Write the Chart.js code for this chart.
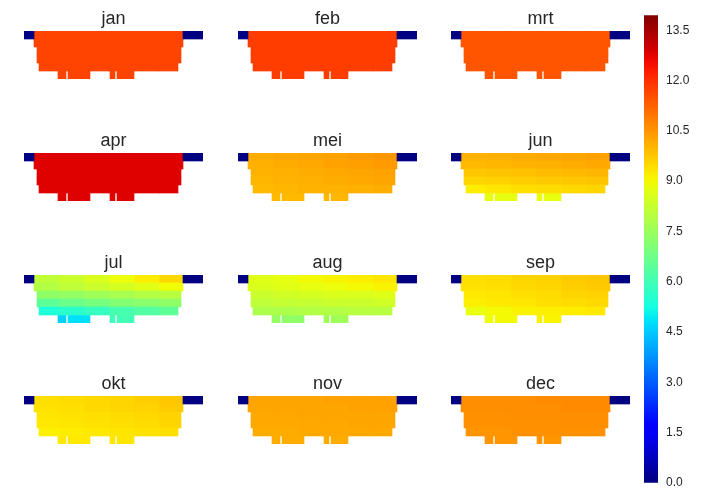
<!DOCTYPE html>
<html>
<head>
<meta charset="utf-8">
<script src="https://cdn.jsdelivr.net/npm/chart.js@4.4.0/dist/chart.umd.min.js"></script>
<style>
  body { margin: 0; background: #fff; width: 702px; height: 489px; overflow: hidden; position: relative; }
  canvas { position: absolute; }
</style>
</head>
<body>
<script>
// --- data -------------------------------------------------------------
const months = ['jan', 'feb', 'mrt', 'apr', 'mei', 'jun', 'jul', 'aug', 'sep', 'okt', 'nov', 'dec'];
const layers = ['0', '1', '2', '3', '4', '5'];            // depth layers, top to bottom
const binEdges = [10, 35, 60, 85, 110, 135, 159];         // distance across section
const bodyRows = [[10, 159], [10, 159], [13, 157], [13, 157], [15, 154]];
const legCells = [[34, 42], [44, 66], [86, 91], [93, 110]];
const bankCells = [[0, 10], [159, 179]];
const bankValue = 0;
const vmax = 13.95;
const cbarTicks = [0, 1.5, 3, 4.5, 6, 7.5, 9, 10.5, 12, 13.5];

// per month: 5 body rows x 6 bins, then the 4 leg cells
const jan = [[11.7, 11.7, 11.7, 11.7, 11.7, 11.7], [11.7, 11.7, 11.7, 11.7, 11.7, 11.7], [11.7, 11.7, 11.7, 11.7, 11.7, 11.7],
             [11.7, 11.7, 11.7, 11.7, 11.7, 11.7], [11.7, 11.7, 11.7, 11.7, 11.7, 11.7], [11.7, 11.7, 11.7, 11.7]];
const feb = [[11.8, 11.8, 11.8, 11.8, 11.8, 11.8], [11.8, 11.8, 11.8, 11.8, 11.8, 11.8], [11.8, 11.8, 11.8, 11.8, 11.8, 11.8],
             [11.8, 11.8, 11.8, 11.8, 11.8, 11.8], [11.8, 11.8, 11.8, 11.8, 11.8, 11.8], [11.8, 11.8, 11.8, 11.8]];
const mrt = [[11.45, 11.45, 11.45, 11.45, 11.45, 11.45], [11.45, 11.45, 11.45, 11.45, 11.45, 11.45], [11.45, 11.45, 11.45, 11.45, 11.45, 11.45],
             [11.45, 11.45, 11.45, 11.45, 11.45, 11.45], [11.45, 11.45, 11.45, 11.45, 11.45, 11.45], [11.45, 11.45, 11.45, 11.45]];
const apr = [[12.8, 12.8, 12.8, 12.8, 12.8, 12.8], [12.8, 12.8, 12.8, 12.8, 12.8, 12.8], [12.8, 12.8, 12.8, 12.8, 12.8, 12.8],
             [12.8, 12.8, 12.8, 12.8, 12.8, 12.8], [12.8, 12.8, 12.8, 12.8, 12.8, 12.8], [12.8, 12.8, 12.8, 12.8]];
const mei = [[10.15, 10.2, 10.25, 10.3, 10.4, 10.45], [10.1, 10.15, 10.2, 10.3, 10.35, 10.4], [10.05, 10.1, 10.15, 10.2, 10.25, 10.3],
             [10.0, 10.05, 10.1, 10.15, 10.2, 10.25], [9.95, 10.0, 10.05, 10.05, 10.1, 10.15], [9.95, 9.95, 10.0, 10.0]];
const jun = [[10.05, 10.1, 10.15, 10.2, 10.25, 10.3], [9.95, 10.0, 10.05, 10.1, 10.15, 10.2], [9.75, 9.8, 9.85, 9.9, 9.95, 10.0],
             [9.55, 9.6, 9.65, 9.7, 9.75, 9.8], [9.2, 9.3, 9.4, 9.45, 9.5, 9.55], [8.8, 8.8, 8.85, 8.85]];
const jul = [[8.1, 8.3, 8.6, 8.9, 9.2, 9.5], [7.9, 8.1, 8.3, 8.5, 8.7, 8.95], [7.3, 7.4, 7.6, 7.7, 7.9, 8.0],
             [6.5, 6.7, 6.9, 7.1, 7.2, 7.3], [5.4, 5.6, 5.8, 6.1, 6.3, 6.5], [4.6, 4.8, 5.9, 6.0]];
const aug = [[8.7, 8.8, 9.0, 9.1, 9.2, 9.3], [8.6, 8.7, 8.8, 8.9, 9.0, 9.1], [8.3, 8.4, 8.5, 8.6, 8.6, 8.7],
             [8.1, 8.2, 8.2, 8.3, 8.3, 8.4], [7.8, 7.8, 7.9, 7.9, 8.0, 8.0], [7.4, 7.3, 7.6, 7.6]];
const sep = [[9.4, 9.45, 9.55, 9.6, 9.7, 9.75], [9.35, 9.4, 9.5, 9.55, 9.65, 9.7], [9.25, 9.3, 9.4, 9.45, 9.55, 9.6],
             [9.15, 9.25, 9.3, 9.4, 9.45, 9.5], [8.85, 9.0, 9.1, 9.15, 9.2, 9.25], [8.9, 9.0, 9.1, 9.1]];
const okt = [[9.4, 9.45, 9.5, 9.55, 9.65, 9.75], [9.35, 9.4, 9.5, 9.55, 9.6, 9.7], [9.3, 9.35, 9.4, 9.45, 9.5, 9.6],
             [9.25, 9.3, 9.35, 9.4, 9.45, 9.55], [9.15, 9.2, 9.25, 9.3, 9.35, 9.4], [9.25, 9.25, 9.3, 9.3]];
const nov = [[10.25, 10.25, 10.25, 10.3, 10.3, 10.3], [10.25, 10.25, 10.25, 10.25, 10.3, 10.3], [10.2, 10.2, 10.25, 10.25, 10.25, 10.25],
             [10.2, 10.2, 10.2, 10.2, 10.25, 10.25], [10.15, 10.15, 10.2, 10.2, 10.2, 10.2], [10.15, 10.15, 10.15, 10.15]];
const dec = [[10.6, 10.6, 10.6, 10.65, 10.65, 10.65], [10.6, 10.6, 10.6, 10.6, 10.65, 10.65], [10.55, 10.55, 10.6, 10.6, 10.6, 10.6],
             [10.55, 10.55, 10.55, 10.55, 10.6, 10.6], [10.5, 10.5, 10.55, 10.55, 10.55, 10.55], [10.5, 10.5, 10.5, 10.5]];
const monthValues = [jan, feb, mrt, apr, mei, jun, jul, aug, sep, okt, nov, dec];

// --- layout / style ---------------------------------------------------
const colLeft = [24, 238, 451];
const rowTop = [31, 153, 275, 396];
const FONT = "'Liberation Sans', Arial, sans-serif";
const TXT = '#262626';

// matplotlib jet
const JET = {
  r: [[0, 0], [0.35, 0], [0.66, 1], [0.89, 1], [1, 0.5]],
  g: [[0, 0], [0.125, 0], [0.375, 1], [0.64, 1], [0.91, 0], [1, 0]],
  b: [[0, 0.5], [0.11, 1], [0.34, 1], [0.65, 0], [1, 0]]
};
function seg(pts, f) {
  for (let i = 0; i < pts.length - 1; i++) {
    if (f <= pts[i + 1][0]) {
      const t = (f - pts[i][0]) / (pts[i + 1][0] - pts[i][0]);
      return pts[i][1] + t * (pts[i + 1][1] - pts[i][1]);
    }
  }
  return pts[pts.length - 1][1];
}
function jetFrac(f) {
  f = Math.max(0, Math.min(1, f));
  return 'rgb(' + Math.round(seg(JET.r, f) * 255) + ',' + Math.round(seg(JET.g, f) * 255) + ',' + Math.round(seg(JET.b, f) * 255) + ')';
}
const jetColor = v => jetFrac(v / vmax);

function panelDatasets(vals) {
  const sets = [];
  bankCells.forEach(c => sets.push({ data: layers.map((l, r) => r === 0 ? c : null), backgroundColor: jetColor(bankValue) }));
  binEdges.slice(0, -1).forEach((e, k) => {
    const data = layers.map((l, r) => {
      if (r >= bodyRows.length) return null;
      const a = Math.max(e, bodyRows[r][0]), b = Math.min(binEdges[k + 1], bodyRows[r][1]);
      return b > a ? [a, b] : null;
    });
    const colors = layers.map((l, r) => r < bodyRows.length ? jetColor(vals[r][k]) : 'rgba(0,0,0,0)');
    sets.push({ data, backgroundColor: colors });
  });
  legCells.forEach((c, k) => sets.push({ data: layers.map((l, r) => r === 5 ? c : null), backgroundColor: jetColor(vals[5][k]) }));
  return sets;
}

function addCanvas(left, top, w, h) {
  const c = document.createElement('canvas');
  c.width = w; c.height = h;
  c.style.left = left + 'px'; c.style.top = top + 'px';
  c.style.width = w + 'px'; c.style.height = h + 'px';
  document.body.appendChild(c);
  return c;
}

months.forEach((m, i) => {
  const cv = addCanvas(colLeft[i % 3], rowTop[Math.floor(i / 3)] - 23, 179, 71);
  new Chart(cv, {
    type: 'bar',
    data: { labels: layers, datasets: panelDatasets(monthValues[i]) },
    options: {
      indexAxis: 'y', responsive: false, animation: false, events: [],
      layout: { padding: 0 },
      datasets: { bar: { barPercentage: 1, categoryPercentage: 1, borderWidth: 0, borderSkipped: false } },
      scales: {
        y: { stacked: true, display: false },
        x: { stacked: false, display: false, min: 0, max: 179 }
      },
      plugins: {
        legend: { display: false }, tooltip: { enabled: false },
        title: { display: true, text: m, color: TXT, font: { family: FONT, size: 18, weight: 'normal', lineHeight: '22px' }, padding: { top: 0, bottom: 1 } }
      }
    }
  });
});

// colorbar
const cb = addCanvas(644, 0, 58, 498);
new Chart(cb, {
  type: 'bar',
  data: {
    labels: [''],
    datasets: [{
      data: [[0, vmax]], borderWidth: 0, barPercentage: 1, categoryPercentage: 1,
      backgroundColor: ctx => {
        const ch = ctx.chart;
        if (!ch.chartArea) return null;
        const y = ch.scales.y;
        const g = ch.ctx.createLinearGradient(0, y.getPixelForValue(0), 0, y.getPixelForValue(vmax));
        for (let i = 0; i <= 40; i++) g.addColorStop(i / 40, jetFrac(i / 40));
        return g;
      }
    }]
  },
  options: {
    responsive: false, animation: false, events: [],
    layout: { padding: { top: 15, bottom: 0, left: 0, right: 0 } },
    scales: {
      x: { display: false },
      y: {
        position: 'right', min: 0, max: vmax,
        afterBuildTicks: s => { s.ticks = cbarTicks.map(v => ({ value: v })); },
        afterFit: s => { s.width = 44; },
        grid: { display: false, drawTicks: false }, border: { display: false },
        ticks: { padding: 8, color: TXT, font: { family: FONT, size: 12 }, callback: v => v.toFixed(1) }
      }
    },
    plugins: { legend: { display: false }, tooltip: { enabled: false } }
  }
});
</script>
</body>
</html>
